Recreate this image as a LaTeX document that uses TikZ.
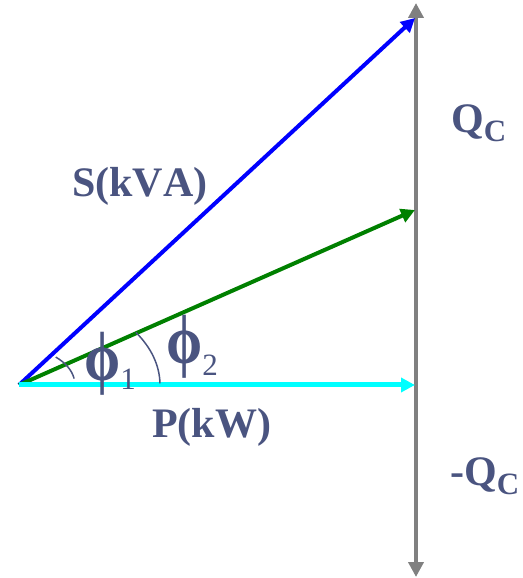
\documentclass[tikz,border=0pt]{standalone}
\usepackage{fontspec}
\setmainfont[Kerning=Off]{Liberation Serif}
\usetikzlibrary{arrows.meta}
\definecolor{slate}{HTML}{4A5480}
\definecolor{axisgray}{HTML}{808080}
\definecolor{kvablue}{HTML}{0000FF}
\definecolor{kvargreen}{HTML}{008000}
\definecolor{kwcyan}{HTML}{00FFFF}
\newcommand{\lowsub}[2]{\raisebox{-#2pt}{\fontsize{31}{31}\selectfont #1}}
\newcommand{\tallphi}{\scalebox{1}[1.2]{\bfseries ϕ}}

\begin{document}
\begin{tikzpicture}[x=1pt, y=1pt,
  axis/.style={{Triangle[length=15pt,width=15pt]}-{Triangle[length=15pt,width=15pt]},
               line width=4pt, color=axisgray},
  vec/.style={-{Triangle[length=14pt,width=14pt]}, line width=4pt},
  angarc/.style={line width=1.5pt, color=slate},
  lbl/.style={font=\fontsize{42}{42}\bfseries\selectfont, text=slate, inner sep=0pt},
  phi/.style={font=\fontsize{58}{58}\selectfont, text=slate, inner sep=0pt}
]
\useasboundingbox (-19,-193) rectangle (503,385);

\coordinate (o) at (0,0);
\coordinate (qtop) at (397,382);
\coordinate (qbot) at (397,-192);
\coordinate (stip) at (396,367);
\coordinate (qtip) at (396,175);
\coordinate (ptip) at (396,0);

\draw[axis] (qbot) -- (qtop);
\draw[vec, kvablue] (o) -- (stip);
\draw[vec, kvargreen] (o) -- (qtip);
\draw[vec, kwcyan, line width=5pt] (o) -- (ptip);

% angle arcs
\draw[angarc] (o) ++(10:56 and 37) arc[start angle=10, end angle=49, x radius=56, y radius=37];
\draw[angarc] (o) ++(1:141 and 94) arc[start angle=1, end angle=34, x radius=141, y radius=94];

\node[lbl, anchor=base west] (slabel) at (53,188) {S(kVA)};
\node[lbl, anchor=base west] (plabel) at (133,-52) {P(kW)};
\node[lbl, anchor=base west] (qlabel) at (432,252) {Q\lowsub{C}{9}};
\node[lbl, anchor=base west] (mqlabel) at (431,-100) {-Q\lowsub{C}{9}};
\node[phi, anchor=base west] (phione) at (65,5) {\tallphi\lowsub{1}{10}};
\node[phi, anchor=base west] (phitwo) at (147,21) {\tallphi\lowsub{2}{12}};

\end{tikzpicture}
\end{document}
